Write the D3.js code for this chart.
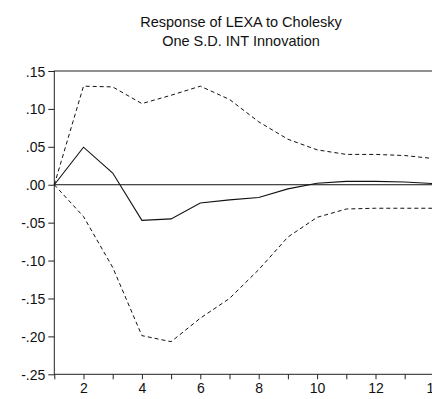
<!DOCTYPE html>
<html>
<head>
<meta charset="utf-8">
<script src="https://cdn.jsdelivr.net/npm/d3@7"></script>
<style>
	body { margin: 0; background: #fff; }
	svg { display: block; font-family: "Liberation Sans", Arial, sans-serif; }
</style>
</head>
<body>
<svg id="chart" width="432" height="399"></svg>
<script>
// periods and impulse response of LEXA to an INT shock, with +/- 2 S.E. bands
var periods = [1, 2, 3, 4, 5, 6, 7, 8, 9, 10, 11, 12, 13, 14];
var response = [0, 0.0495, 0.0155, -0.047, -0.045, -0.024, -0.020, -0.0168, -0.0055, 0.002, 0.0044, 0.0044, 0.0036, 0.0015];
var upper = [0, 0.130, 0.129, 0.107, 0.118, 0.130, 0.1125, 0.083, 0.060, 0.046, 0.040, 0.040, 0.0385, 0.0345];
var lower = [0, -0.042, -0.109, -0.199, -0.207, -0.176, -0.150, -0.112, -0.069, -0.043, -0.032, -0.031, -0.031, -0.031];
var yTicks = [0.15, 0.10, 0.05, 0.00, -0.05, -0.10, -0.15, -0.20, -0.25];
var xLabels = [2, 4, 6, 8, 10, 12, 14];
var titleLines = ["Response of LEXA to Cholesky", "One S.D. INT Innovation"];

var svg = d3.select("svg#chart");
var margin = {top: 71, left: 54.3, bottom: 374.3};

var x = d3.scaleLinear().domain([1, 14]).range([margin.left, margin.left + 13 * 29.2]);
var y = d3.scaleLinear().domain([-0.25, 0.15]).range([margin.bottom, margin.top]);

// title
svg.append("g").selectAll("text")
	.data(titleLines)
	.enter()
	.append("text")
	.attr("x", 241)
	.attr("y", function(d, i){ return 26.5 + i * 19.5; })
	.attr("text-anchor", "middle")
	.style("font-size", "14.5px")
	.style("fill", "#111")
	.text(function(d){ return d; });

// frame (right side runs off the picture)
svg.append("rect")
	.attr("x", margin.left)
	.attr("y", margin.top)
	.attr("width", x(14) - margin.left + 20)
	.attr("height", margin.bottom - margin.top)
	.style("fill", "none")
	.style("stroke", "#222")
	.style("stroke-width", 1);

// y axis, EViews style labels: .15, -.05 ...
var yAxis = d3.axisLeft(y)
	.tickValues(yTicks)
	.tickSize(6)
	.tickPadding(3)
	.tickFormat(function(d){
		var s = Math.abs(d).toFixed(2).replace("0.", ".");
		return (d < 0 ? "-" : "") + s;
	});
var gy = svg.append("g")
	.attr("transform", "translate(" + margin.left + ",0)")
	.call(yAxis);
gy.select(".domain").remove();
gy.selectAll("line").style("stroke", "#222");
gy.selectAll("text").style("font-size", "14px").style("fill", "#111").attr("dy", "0.36em");

// x axis, every period ticked, even ones labelled
var xAxis = d3.axisBottom(x)
	.tickValues(periods)
	.tickSize(5)
	.tickPadding(4)
	.tickFormat(function(d){ return xLabels.indexOf(d) >= 0 ? d : ""; });
var gx = svg.append("g")
	.attr("transform", "translate(0," + margin.bottom + ")")
	.call(xAxis);
gx.select(".domain").remove();
gx.selectAll("line").style("stroke", "#222");
gx.selectAll("text").style("font-size", "14px").style("fill", "#111");

// zero line
svg.append("line")
	.attr("x1", margin.left)
	.attr("x2", 440)
	.attr("y1", y(0))
	.attr("y2", y(0))
	.style("stroke", "#111")
	.style("stroke-width", 1);

var line = d3.line()
	.x(function(d, i){ return x(periods[i]); })
	.y(function(d){ return y(d); });

svg.append("path")
	.datum(upper)
	.attr("d", line)
	.style("fill", "none")
	.style("stroke", "#111")
	.style("stroke-width", 1)
	.style("stroke-dasharray", "4,3");

svg.append("path")
	.datum(lower)
	.attr("d", line)
	.style("fill", "none")
	.style("stroke", "#111")
	.style("stroke-width", 1)
	.style("stroke-dasharray", "4,3");

svg.append("path")
	.datum(response)
	.attr("d", line)
	.style("fill", "none")
	.style("stroke", "#111")
	.style("stroke-width", 1.1);
</script>
</body>
</html>
